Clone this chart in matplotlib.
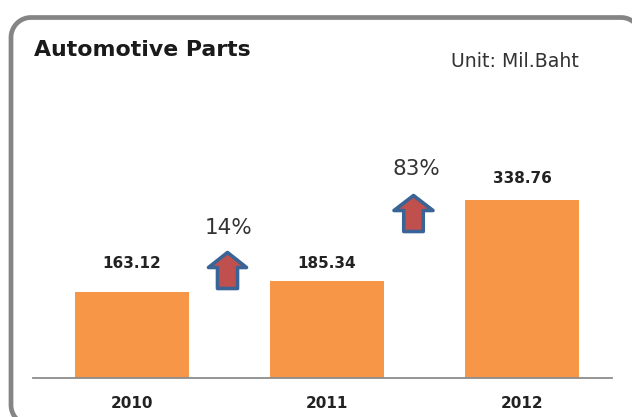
import matplotlib
matplotlib.use("Agg")
import matplotlib.pyplot as plt
import numpy as np
from matplotlib.patches import Polygon

years = ["2010", "2011", "2012"]
values = [163.12, 185.34, 338.76]
value_labels = ["163.12", "185.34", "338.76"]
growth_labels = ["14%", "83%"]
label_gap = [15, 7, 10]  # labels sit at uneven heights above the bars

W, H = 632, 417
plt.rcParams["font.family"] = "DejaVu Sans"
fig = plt.figure(figsize=(W / 100, H / 100), dpi=100, facecolor="white")

# overlay in pixel coords (y down) for the frame, arrows and free text
over = fig.add_axes([0, 0, 1, 1], zorder=3)
over.set_xlim(0, W)
over.set_ylim(H, 0)
over.axis("off")
over.patch.set_alpha(0)

# rounded frame, runs off the canvas on the right and at the bottom
left, top, right, bottom, r = 11, 17.5, 641, 425, 20
t = np.linspace(0, np.pi / 2, 20)
xs = np.concatenate([left + r - r * np.sin(t), left + r - r * np.cos(t), right - r + r * np.sin(t)])
ys = np.concatenate([bottom - r + r * np.cos(t), top + r - r * np.sin(t), top + r - r * np.cos(t)])
xs = np.append(xs, right)
ys = np.append(ys, bottom)
over.plot(xs, ys, color="#858585", lw=3.4)

# bar chart
ax = fig.add_axes([33 / W, 1 - 378 / H, (612 - 33) / W, 300 / H], zorder=2)
ax.patch.set_alpha(0)
ax.bar(range(3), values, width=0.585, color="#F79646")
ax.set_xlim(-99 / 195, 480 / 195)
ax.set_ylim(0, 300 / 0.5254)
ax.set_xticks(range(3), years, fontsize=11, fontweight="bold", color="#222222")
ax.tick_params(axis="x", length=0, pad=13)
ax.set_yticks([])
for s in ["top", "left", "right"]:
    ax.spines[s].set_visible(False)
ax.spines["bottom"].set_color("#8C8C8C")
ax.spines["bottom"].set_linewidth(1.3)
for i, v in enumerate(values):
    ax.annotate(value_labels[i], (i, v), xytext=(0, label_gap[i]), textcoords="offset points",
                ha="center", va="bottom", fontsize=11, fontweight="bold",
                color="#222222")


def up_arrow(cx, tip, neck, bot, head_w, shaft_w):
    pts = [(cx, tip), (cx + head_w / 2, neck), (cx + shaft_w / 2, neck),
           (cx + shaft_w / 2, bot), (cx - shaft_w / 2, bot),
           (cx - shaft_w / 2, neck), (cx - head_w / 2, neck)]
    over.add_patch(Polygon(pts, closed=True, fc="#C0504D", ec="#3A6496", lw=2.6,
                           joinstyle="round"))


up_arrow(227.5, 252.5, 267.5, 288.5, 38, 20)
up_arrow(413.5, 195.5, 210.5, 231.5, 39, 19.5)

over.text(228.5, 228, growth_labels[0], ha="center", va="center", fontsize=15.5,
          color="#333333")
over.text(416, 169, growth_labels[1], ha="center", va="center", fontsize=15.5,
          color="#333333")
over.text(34, 50, "Automotive Parts", ha="left", va="center", fontsize=15.8,
          fontweight="bold", color="#1A1A1A")
over.text(451, 61, "Unit: Mil.Baht", ha="left", va="center", fontsize=13.6,
          color="#333333")

fig.savefig("out.png", dpi=100)
